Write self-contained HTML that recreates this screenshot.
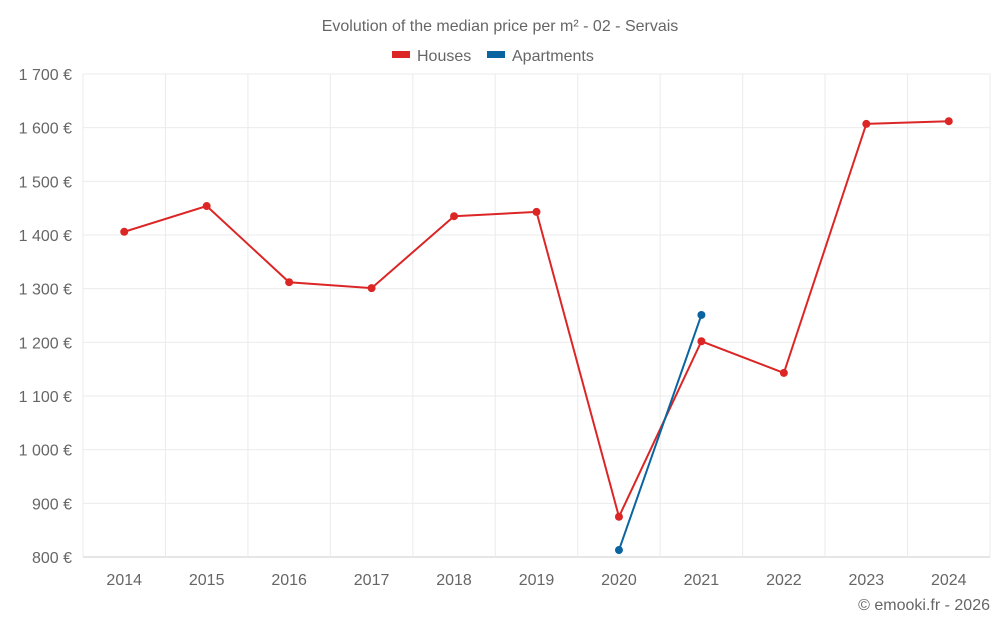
<!DOCTYPE html>
<html><head><meta charset="utf-8"><style>
body{margin:0;background:#fff;}
svg text{font-family:"Liberation Sans",sans-serif;fill:#666;}
</style></head><body>
<svg id="chart" width="1000" height="625" viewBox="0 0 1000 625" xmlns="http://www.w3.org/2000/svg">
<text x="500" y="31" text-anchor="middle" font-size="16">Evolution of the median price per m² - 02 - Servais</text>
<g>
<g><rect x="392" y="51" width="18" height="7" fill="#dc2626"/><text x="417" y="61" font-size="16">Houses</text></g>
<g><rect x="487" y="51" width="18" height="7" fill="#0a64a0"/><text x="512" y="61" font-size="16">Apartments</text></g>
</g>
<g id="grid"></g>
<g id="axes"></g>
<g id="series"></g>
<text x="990" y="610" text-anchor="end" font-size="16">© emooki.fr - 2026</text>
</svg>
<script>
const years=["2014","2015","2016","2017","2018","2019","2020","2021","2022","2023","2024"];
const houses=[1406,1454,1312,1301,1435,1443,875,1202,1143,1607,1612];
const apartments=[null,null,null,null,null,null,813,1251,null,null,null];
const yTicks=[800,900,1000,1100,1200,1300,1400,1500,1600,1700];
const yTickLabels=["800 €","900 €","1 000 €","1 100 €","1 200 €","1 300 €","1 400 €","1 500 €","1 600 €","1 700 €"];
const L=83,R=990,T=74,B=557,yMin=800,yMax=1700;
const bw=(R-L)/years.length;
const x=i=>L+bw*(i+0.5);
const y=v=>B-(v-yMin)/(yMax-yMin)*(B-T);
const NS="http://www.w3.org/2000/svg";
function mk(tag,attrs,parent){const e=document.createElementNS(NS,tag);for(const k in attrs)e.setAttribute(k,attrs[k]);parent.appendChild(e);return e;}
const grid=document.getElementById('grid'),axes=document.getElementById('axes'),series=document.getElementById('series');
yTicks.forEach((t,i)=>{
 const ln=mk('line',{x1:L,x2:R,y1:y(t),y2:y(t),stroke:i===0?'#ccc':'#ebebeb','stroke-width':1},grid);
 
 
 const tx=mk('text',{x:72,y:y(t)+6,'text-anchor':'end','font-size':16},axes);
 tx.textContent=yTickLabels[i];
 
 
});
for(let i=0;i<=years.length;i++){
 const ln=mk('line',{x1:L+bw*i,x2:L+bw*i,y1:T,y2:B,stroke:'#ebebeb','stroke-width':1},grid);
 
 
}
years.forEach((yr,i)=>{
 const tx=mk('text',{x:x(i),y:585,'text-anchor':'middle','font-size':16},axes);
 tx.textContent=yr;
 
 
});
function draw(vals,color,name){
 const pts=[];vals.forEach((v,i)=>{if(v!=null)pts.push([x(i),y(v)]);});
 const p=mk('polyline',{points:pts.map(p=>p.join(',')).join(' '),fill:'none',stroke:color,'stroke-width':2},series);
 
 
 pts.forEach(pt=>{
  const c=mk('circle',{cx:pt[0],cy:pt[1],r:4,fill:color},series);
  
  
 });
}
draw(houses,'#dc2626','houses');
draw(apartments,'#0a64a0','apartments');
</script>
</body></html>
